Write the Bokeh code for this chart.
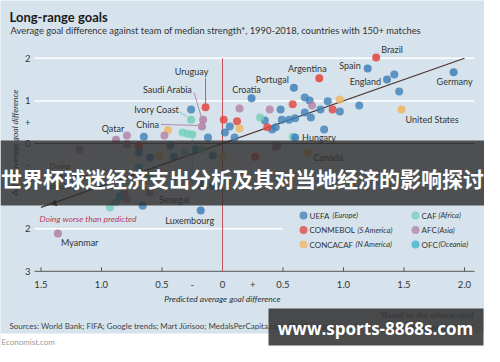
import numpy as np
from bokeh.plotting import figure
from bokeh.models import Range1d
from bokeh.core.properties import value
from bokeh.embed import file_html
from bokeh.resources import INLINE

# ---------------- data ----------------
confederations = ["UEFA", "CONMEBOL", "CONCACAF", "CAF", "AFC", "OFC"]
confed_regions = ["(Europe)", "(S America)", "(N America)", "(Africa)", "(Asia)", "(Oceania)"]

named_teams = ["Brazil", "Spain", "Argentina", "England", "Germany", "Portugal", "Croatia",
               "Uruguay", "Saudi Arabia", "Ivory Coast", "China", "Qatar", "Senegal",
               "Hungary", "United States", "Canada", "Luxembourg", "Myanmar"]
named_confed = ["CONMEBOL", "UEFA", "CONMEBOL", "UEFA", "UEFA", "UEFA", "UEFA",
                "CONMEBOL", "AFC", "CAF", "AFC", "AFC", "CAF",
                "UEFA", "CONCACAF", "CONCACAF", "UEFA", "AFC"]
named_predicted = [1.27, 1.20, 0.80, 1.36, 1.91, 0.59, 0.24,
                   -0.14, -0.16, -0.26, -0.17, -0.88, -0.25,
                   0.60, 1.48, 0.71, -0.18, -1.36]
named_actual = [2.02, 1.76, 1.53, 1.50, 1.67, 1.31, 1.06,
                0.85, 0.56, 0.56, 0.40, 0.09, 0.21,
                0.14, 0.80, -0.21, -1.57, -2.11]

uefa_predicted = [1.42, 1.46, 0.68, 0.72, 0.87, 1.13, 0.97, 0.48, 0.81, 0.68, 0.60, 0.73, 0.49,
                  0.35, 0.44, 0.84, -0.26, 0.06, 0.02, 0.55, -0.12, 0.10, -0.65, 0.45, -0.66,
                  -0.43, -0.69, -0.60, -0.40, -0.22, -0.08, -0.19, -0.08, 0.41]
uefa_actual = [1.62, 1.22, 1.08, 1.01, 0.99, 0.89, 0.75, 0.80, 0.80, 0.73, 0.59, 0.61, 0.56,
               0.54, 0.38, 0.33, 0.80, 0.40, 0.26, 0.56, 0.14, 0.14, 0.16, -0.05, -1.46,
               -0.05, -0.21, -0.33, -0.31, -0.14, -0.28, -0.96, -0.99, 0.33]
conmebol_predicted = [0.58, 0.91, 0.01, 0.12, 0.37, -0.69, 0.27]
conmebol_actual = [0.92, 0.80, 0.56, 0.52, 0.38, -0.05, -0.31]
concacaf_predicted = [0.97, 0.14, -0.45, 0.00, -0.52]
concacaf_actual = [1.03, 0.35, 0.31, -0.33, -0.28]
caf_predicted = [0.31, -0.33, -0.29, 0.58, -0.93, -0.88, -0.17, -0.60, -0.31]
caf_actual = [0.61, 0.26, 0.23, 0.16, -1.50, -1.38, -0.14, -0.75, -0.21]
afc_predicted = [0.39, 0.74, 0.14, -0.79, -0.48, -1.18, -0.79, -0.60, -0.79, -0.81, 0.44]
afc_actual = [0.80, 0.89, 0.82, 0.19, 0.19, -0.14, -0.02, -1.15, -1.31, -1.15, -0.09]
ofc_predicted = [-0.69, -0.85]
ofc_actual = [-0.56, -1.25]

x_tick_values = [-1.5, -1.0, -0.5, -0.25, 0, 0.25, 0.5, 1.0, 1.5, 2.0]
x_tick_labels = ["1.5", "1.0", "0.5", "-", "0", "+", "0.5", "1.0", "1.5", "2.0"]
y_tick_values = [2, 1, 0.5, 0, -0.5, -1, -2, -3]
y_tick_labels = ["2", "1", "+", "0", "-", "1", "2", "3"]
grid_values = [2, 1, -1, -2]
axis_tick_values = [-1.5, -1.0, -0.5, 0.5, 1.0, 1.5, 2.0]

# ---------------- layout / style ----------------
W, H = 484, 346
X0PX, XS = 230.0, 121.0      # reference pixel of x=0 and px per unit
Y0PX, YS = 151.0, 42.6
def rx(px): return (px - X0PX) / XS
def ry(py): return (Y0PX - py) / YS

BG = "#d6e3ec"
TXT = "#333333"
FONT = "Lato"
colors = {"UEFA": "#3f7fb8", "CONMEBOL": "#e3423c", "CONCACAF": "#f0b55e",
          "CAF": "#74cfb9", "AFC": "#b27fa6", "OFC": "#35b2d2"}

label_layout = {   # align, dx px, dy px (down positive)
    "Brazil": ("left", 5, -8), "Spain": ("right", -7, -3), "Argentina": ("center", -12, -10),
    "England": ("right", -6, 2), "Germany": ("center", 1, 9), "Portugal": ("right", -5, -8),
    "Croatia": ("center", -5, -9), "Uruguay": ("center", -14, -36),
    "Saudi Arabia": ("right", -11, -30), "Ivory Coast": ("right", -12, -10),
    "China": ("right", -43, -2), "Qatar": ("center", -3, -11), "Senegal": ("center", -18, 65),
    "Hungary": ("left", 7, 0), "United States": ("left", 4, 10), "Canada": ("left", 5, 5),
    "Luxembourg": ("center", -11, 10), "Myanmar": ("left", 3, 9),
}
leaders = {  # from (dx0,dy0) to (dx1,dy1) px relative to the point
    "Uruguay": (0, -29, 0, -4), "Saudi Arabia": (-9, -27, -2, -3),
    "Ivory Coast": (-12, -8, -4, -3), "China": (-41, -2, -4, -1), "Senegal": (0, 4, 0, 59),
}

xs = rx(8)
xe = xs + W / XS
ye = ry(8)
ys = ye - H / YS

p = figure(width=W, height=H, x_range=Range1d(xs, xe), y_range=Range1d(ys, ye),
           output_backend="svg", toolbar_location=None, min_border=0,
           x_axis_type=None, y_axis_type=None,
           background_fill_color=BG, border_fill_color=BG, outline_line_color=None)
p.xgrid.visible = False
p.ygrid.visible = False


def txt(x, y, s, size, color=TXT, align="left", baseline="middle", style="normal",
        font=FONT, angle=0.0):
    p.text(x=[x], y=[y], text=[s], text_font=value(font), text_font_size=f"{size}px",
           text_color=color, text_align=align, text_baseline=baseline,
           text_font_style=style, angle=angle)


# white strip at the bottom
p.quad(left=[xs], right=[xe], top=[ry(341)], bottom=[ys], fill_color="white", line_color=None)

# titles
txt(rx(17), ry(24), "Long-range goals", 13, color="#1a1a1a", style="bold")
txt(rx(18), ry(38), "Average goal difference against team of median strength*, 1990-2018, "
    "countries with 150+ matches", 9.4)

# grid lines
gx0, gx1 = rx(42), rx(482)
for g in grid_values:
    right = rx(290) if g == -2 else gx1
    p.segment(x0=[gx0], y0=[g], x1=[right], y1=[g], line_color="white", line_width=1.5)
p.segment(x0=[gx0], y0=[0], x1=[gx1], y1=[0], line_color="#5a4a48", line_width=1)
# bottom axis line + ticks
p.segment(x0=[gx0], y0=[-3], x1=[gx1], y1=[-3], line_color="#555555", line_width=1)
p.segment(x0=axis_tick_values, y0=[-3] * len(axis_tick_values),
          x1=axis_tick_values, y1=[-3 + 4 / YS] * len(axis_tick_values),
          line_color="#555555", line_width=1)
# x = 0 reference line
p.segment(x0=[0], y0=[2], x1=[0], y1=[-3], line_color="#c4535a", line_width=1)

# tick labels
p.text(x=x_tick_values, y=[ry(292)] * len(x_tick_values), text=x_tick_labels,
       text_font=value(FONT), text_font_size="9.5px", text_color=TXT,
       text_align="center", text_baseline="middle")
p.text(x=[rx(38)] * len(y_tick_values), y=y_tick_values, text=y_tick_labels,
       text_font=value(FONT), text_font_size="9.5px", text_color=TXT,
       text_align="right", text_baseline="middle")

# axis titles
txt(0, ry(306), "Predicted average goal difference", 8.5, style="italic", align="center")
txt(rx(22), ry(150), "Actual average goal difference", 8.5, style="italic",
    align="center", angle=np.pi / 2)

# predicted = actual diagonal
p.segment(x0=[-1.5], y0=[-1.5], x1=[2.0], y1=[2.0], line_color="#4a3530", line_width=1.2)
p.scatter(x=[-1.39], y=[-1.40], marker="triangle", angle=np.pi / 2 + 0.3, size=7,
          fill_color="#2a1a18", line_color=None)
txt(rx(47), ry(226), "Doing worse than predicted", 8.5, color="#b5415a", style="italic")
for s, yy in zip(["Doing", "better than", "predicted"], [173, 183, 193]):
    txt(rx(57), ry(yy), s, 8.5, color="#555555", style="italic")

# points
groups = [("UEFA", uefa_predicted, uefa_actual), ("CONMEBOL", conmebol_predicted, conmebol_actual),
          ("CONCACAF", concacaf_predicted, concacaf_actual), ("CAF", caf_predicted, caf_actual),
          ("AFC", afc_predicted, afc_actual), ("OFC", ofc_predicted, ofc_actual)]
for c, xv, yv in groups:
    p.scatter(x=xv, y=yv, size=8, fill_color=colors[c], fill_alpha=0.8, line_color=None)
p.scatter(x=named_predicted, y=named_actual, size=8,
          fill_color=[colors[c] for c in named_confed], fill_alpha=0.85, line_color=None)

# leader lines
for name, (a0, b0, a1, b1) in leaders.items():
    i = named_teams.index(name)
    px_, py_ = named_predicted[i], named_actual[i]
    p.segment(x0=[px_ + a0 / XS], y0=[py_ - b0 / YS], x1=[px_ + a1 / XS], y1=[py_ - b1 / YS],
              line_color=colors[named_confed[i]], line_width=0.9)

# team labels
for name, px_, py_ in zip(named_teams, named_predicted, named_actual):
    al, dx, dy = label_layout[name]
    txt(px_ + dx / XS, py_ - dy / YS, name, 9, align=al)

# legend
leg_cols = [311, 423]
leg_rows = [223, 237.5, 252]
leg_italic_x = [340, 365, 363, 446, 445, 446]
for k, (c, reg) in enumerate(zip(confederations, confed_regions)):
    col, row = k // 3, k % 3
    cx, cy = leg_cols[col], leg_rows[row]
    p.scatter(x=[rx(cx)], y=[ry(cy)], size=8, fill_color=colors[c], fill_alpha=0.75, line_color=None)
    txt(rx(cx + 6), ry(cy), c, 8)
    txt(rx(leg_italic_x[k]), ry(cy), reg, 7.5, style="italic")

# footnotes
txt(rx(17), ry(333), "Sources: World Bank; FIFA; Google trends; Mart J\u00fcrisoo; "
    "MedalsPerCapita.com; The Economist", 8, color="#444444")
txt(rx(481), ry(322), "*Based on the criteria used", 8, color="#444444", align="right")
txt(rx(481), ry(334), "in The Economist's model", 8, color="#444444", align="right")
txt(rx(9), ry(349), "Economist.com", 8, color="#999999")

# overlay banner
p.quad(left=[rx(8)], right=[rx(492)], top=[ry(148)], bottom=[ry(213)],
       fill_color="#2e2e2e", fill_alpha=0.82, line_color=None)
txt(rx(250), ry(185), "世界杯球迷经济支出分析及其对当地经济的影响探讨", 21, color="white",
    align="center", style="bold", font="Noto Sans CJK SC")

# watermark
p.quad(left=[rx(276)], right=[rx(491)], top=[ry(316)], bottom=[ry(353)],
       fill_color="#333333", fill_alpha=0.88, line_color=None)
txt(rx(383), ry(336), "www.sports-8868s.com", 17, color="white", align="center",
    style="bold", font="Open Sans")

open("out.html", "w").write(file_html(p, INLINE))
